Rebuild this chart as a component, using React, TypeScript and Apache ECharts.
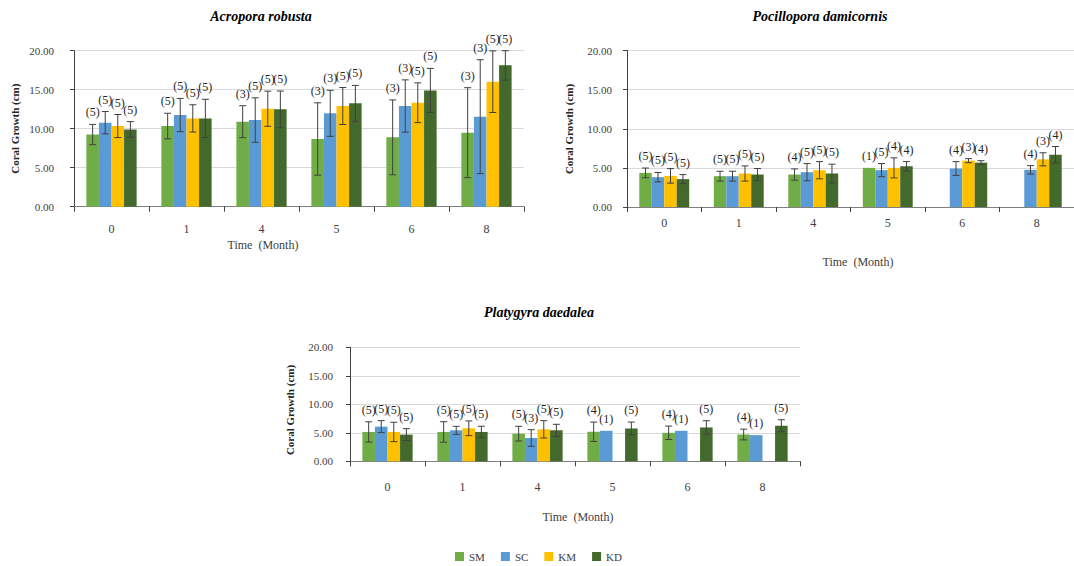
import React, { useEffect, useRef } from "react";
import * as echarts from "echarts";

const months = ["0", "1", "4", "5", "6", "8"];
const groupNames = ["SM", "SC", "KM", "KD"];
const groupColors = ["#70AD47", "#5B9BD5", "#FFC000", "#436A2C"];
const yTicks = [0, 5, 10, 15, 20];

// Acropora robusta
const acroSM = [9.25, 10.34, 10.9, 8.68, 8.89, 9.49];
const acroSC = [10.77, 11.75, 11.11, 11.97, 12.91, 11.54];
const acroKM = [10.34, 11.32, 12.56, 12.91, 13.33, 16.03];
const acroKD = [9.91, 11.32, 12.48, 13.25, 14.91, 18.12];
const acroSMErr = [1.3, 1.64, 2.05, 4.64, 4.8, 5.77];
const acroSCErr = [1.43, 2.13, 2.85, 2.95, 3.35, 7.3];
const acroKMErr = [1.48, 1.75, 2.25, 2.37, 2.55, 3.95];
const acroKDErr = [1.0, 2.45, 2.35, 2.3, 2.82, 1.88];
const acroSMN = [5, 5, 3, 3, 3, 3];
const acroSCN = [5, 5, 5, 3, 3, 3];
const acroKMN = [5, 5, 5, 5, 5, 5];
const acroKDN = [5, 5, 5, 5, 5, 5];

// Pocillopora damicornis
const pociSM = [4.36, 3.94, 4.15, 5.0, null, null];
const pociSC = [3.81, 3.94, 4.45, 4.71, 4.92, 4.75];
const pociKM = [3.98, 4.28, 4.7, 5.0, 5.92, 6.09];
const pociKD = [3.56, 4.15, 4.28, 5.21, 5.67, 6.68];
const pociSMErr = [0.62, 0.63, 0.72, 0, null, null];
const pociSCErr = [0.6, 0.63, 1.1, 0.84, 0.88, 0.54];
const pociKMErr = [0.93, 0.97, 1.1, 1.28, 0.26, 0.84];
const pociKDErr = [0.58, 0.77, 1.19, 0.6, 0.25, 1.05];
const pociSMN = [5, 5, 4, 1, null, null];
const pociSCN = [5, 5, 5, 5, 4, 4];
const pociKMN = [5, 5, 5, 4, 3, 3];
const pociKDN = [5, 5, 5, 4, 4, 4];

// Platygyra daedalea
const platSM = [5.15, 5.15, 4.85, 5.18, 5.0, 4.7];
const platSC = [6.08, 5.44, 4.09, 5.35, 5.35, 4.59];
const platKM = [5.15, 5.79, 5.61, null, null, null];
const platKD = [4.68, 5.15, 5.44, 5.76, 5.94, 6.24];
const platSMErr = [1.78, 1.8, 1.29, 1.7, 1.18, 0.94];
const platSCErr = [1.05, 0.7, 1.46, 0, 0, 0];
const platKMErr = [1.7, 1.29, 1.52, null, null, null];
const platKDErr = [1.05, 1.0, 1.05, 1.12, 1.18, 1.05];
const platSMN = [5, 5, 5, 4, 4, 4];
const platSCN = [5, 5, 3, 1, 1, 1];
const platKMN = [5, 5, 5, null, null, null];
const platKDN = [5, 5, 5, 5, 5, 5];

const chartTitles = ["Acropora robusta", "Pocillopora damicornis", "Platygyra daedalea"];
const yAxisTitle = "Coral Growth (cm)";
const xAxisTitle = "Time  (Month)";

const SERIF = "Liberation Serif, serif";
const GAP = 0.33;

export default function App() {
  const ref = useRef<HTMLDivElement>(null);
  useEffect(() => {
    if (!ref.current) return;
    const chart = echarts.init(ref.current, null, { renderer: "svg" });

    const charts = [
      { means: [acroSM, acroSC, acroKM, acroKD], errs: [acroSMErr, acroSCErr, acroKMErr, acroKDErr], ns: [acroSMN, acroSCN, acroKMN, acroKDN] },
      { means: [pociSM, pociSC, pociKM, pociKD], errs: [pociSMErr, pociSCErr, pociKMErr, pociKDErr], ns: [pociSMN, pociSCN, pociKMN, pociKDN] },
      { means: [platSM, platSC, platKM, platKD], errs: [platSMErr, platSCErr, platKMErr, platKDErr], ns: [platSMN, platSCN, platKMN, platKDN] },
    ];

    const grids = [
      { left: 74, top: 50.7, width: 450, height: 156 },
      { left: 627, top: 50.5, width: 452, height: 156.5 },
      { left: 350, top: 347.3, width: 450, height: 114 },
    ];
    const yLabelMargin = [20, 15, 17];
    const xLabelMargin = [16, 10, 20];
    const titlePos = [[261, 9], [820, 9], [539, 305]];
    const yNamePos = [[14.5, 128.7], [569, 129], [290, 410]];
    const xNamePos = [[263, 245], [858, 262], [578, 517]];

    const series: any[] = [];
    charts.forEach((c, gi) => {
      groupNames.forEach((name, si) => {
        series.push({
          type: "bar",
          name,
          xAxisIndex: gi,
          yAxisIndex: gi,
          data: c.means[si].map((v) => (v == null ? "-" : v)),
          itemStyle: { color: groupColors[si] },
          barGap: "0%",
          barCategoryGap: GAP * 100 + "%",
        });
      });
      const errData: any[] = [];
      for (let si = 0; si < 4; si++) {
        for (let ci = 0; ci < months.length; ci++) {
          const m = c.means[si][ci];
          if (m == null) continue;
          errData.push([ci, si, m, c.errs[si][ci] || 0, c.ns[si][ci]]);
        }
      }
      series.push({
        type: "custom",
        name: "err" + gi,
        xAxisIndex: gi,
        yAxisIndex: gi,
        z: 5,
        silent: true,
        encode: { x: 0, y: 2 },
        data: errData,
        renderItem: (params: any, api: any) => {
          const ci = api.value(0);
          const si = api.value(1);
          const v = api.value(2);
          const e = api.value(3);
          const n = api.value(4);
          const band = api.size([1, 0])[0];
          const bw = (band * (1 - GAP)) / 4;
          const base = api.coord([ci, v]);
          const x = base[0] + (si - 1.5) * bw;
          const top = api.coord([ci, v + e])[1];
          const bot = api.coord([ci, v - e])[1];
          const stroke = { stroke: "#404040", lineWidth: 1 };
          const children: any[] = [];
          if (e > 0) {
            children.push({ type: "line", shape: { x1: x, y1: top, x2: x, y2: bot }, style: stroke });
            children.push({ type: "line", shape: { x1: x - 3.5, y1: top, x2: x + 3.5, y2: top }, style: stroke });
            children.push({ type: "line", shape: { x1: x - 3.5, y1: bot, x2: x + 3.5, y2: bot }, style: stroke });
          }
          children.push({
            type: "text",
            x,
            y: top - 12,
            style: {
              text: "(" + n + ")",
              align: "center",
              verticalAlign: "middle",
              textAlign: "center",
              textVerticalAlign: "middle",
              fontSize: 12,
              fontFamily: SERIF,
              fill: "#262626",
            },
          });
          return { type: "group", children };
        },
      });
    });

    const textStyle = (size: number, extra: any = {}) => ({
      fontSize: size,
      fontFamily: SERIF,
      fill: "#262626",
      align: "center",
      verticalAlign: "middle",
      textAlign: "center",
      textVerticalAlign: "middle",
      ...extra,
    });

    const graphic: any[] = [];
    for (let gi = 0; gi < 3; gi++) {
      graphic.push({
        type: "text",
        x: yNamePos[gi][0],
        y: yNamePos[gi][1],
        rotation: Math.PI / 2,
        style: { text: yAxisTitle, ...textStyle(11, { fontWeight: "bold" }) },
      });
      graphic.push({
        type: "text",
        x: xNamePos[gi][0],
        y: xNamePos[gi][1],
        style: { text: xAxisTitle, ...textStyle(12, { fill: "#404040" }) },
      });
    }

    chart.setOption({
      animation: false,
      backgroundColor: "#ffffff",
      title: chartTitles.map((t, gi) => ({
        text: t,
        left: titlePos[gi][0],
        top: titlePos[gi][1],
        textAlign: "center",
        padding: 0,
        textStyle: { fontSize: 14, fontWeight: "bold", fontStyle: "italic", fontFamily: SERIF, color: "#000" },
      })),
      legend: {
        data: groupNames,
        left: 455,
        top: 551,
        icon: "rect",
        itemWidth: 9,
        itemHeight: 9,
        itemGap: 16,
        padding: 0,
        textStyle: { fontSize: 11, fontFamily: SERIF, color: "#404040" },
      },
      grid: grids.map((g) => ({ ...g, containLabel: false })),
      xAxis: grids.map((_, gi) => ({
        type: "category",
        gridIndex: gi,
        data: months,
        axisLine: { lineStyle: { color: "#7f7f7f", width: 1 } },
        axisTick: { show: true, alignWithLabel: false, length: 5, lineStyle: { color: "#404040" } },
        axisLabel: { margin: xLabelMargin[gi], fontSize: 12, fontFamily: SERIF, color: "#404040" },
        splitLine: { show: false },
      })),
      yAxis: grids.map((_, gi) => ({
        type: "value",
        gridIndex: gi,
        min: yTicks[0],
        max: yTicks[yTicks.length - 1],
        interval: 5,
        axisLine: { show: true, lineStyle: { color: "#404040", width: 1 } },
        axisTick: { show: true, length: 4, lineStyle: { color: "#404040" } },
        axisLabel: {
          margin: yLabelMargin[gi],
          fontSize: 11,
          fontFamily: SERIF,
          color: "#404040",
          formatter: (v: number) => v.toFixed(2),
        },
        splitLine: { show: true, lineStyle: { color: "#d9d9d9", width: 1 } },
      })),
      graphic,
      series,
    });
    return () => chart.dispose();
  }, []);
  return (
    <div
      ref={ref}
      style={{ position: "fixed", left: 0, top: 0, width: 1074, height: 566, background: "#fff" }}
    />
  );
}
